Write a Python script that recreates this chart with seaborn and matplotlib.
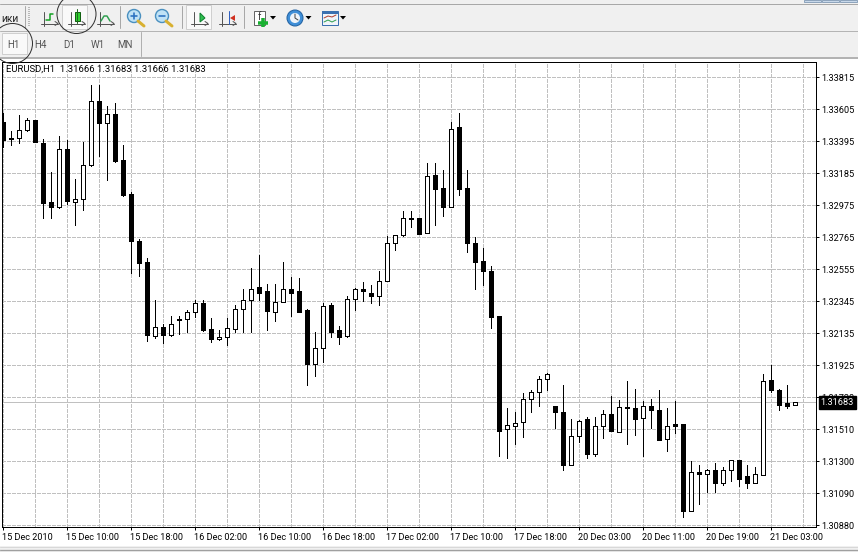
import numpy as np
import pandas as pd
import seaborn as sns
import matplotlib.pyplot as plt
from matplotlib.patches import Rectangle, Circle, Ellipse, Polygon
from matplotlib.transforms import ScaledTranslation

# --- chart values (EURUSD H1) ---
opens = [1.33526, 1.33419, 1.33419, 1.33469, 1.33537, 1.33388, 1.32995, 1.32964, 1.33347, 1.32997,
         1.33019, 1.33239, 1.33662, 1.33515, 1.33577, 1.33275, 1.33052, 1.32743, 1.32601, 1.32117,
         1.32179, 1.32124, 1.32233, 1.32231, 1.32275, 1.32338, 1.32166, 1.32098, 1.32113, 1.32163,
         1.32294, 1.32354, 1.32437, 1.32411, 1.32275, 1.32340, 1.32428, 1.32411, 1.32286, 1.31934,
         1.32039, 1.32319, 1.32155, 1.32117, 1.32360, 1.32430, 1.32404, 1.32382, 1.32478, 1.32730,
         1.32780, 1.32894, 1.32890, 1.32793, 1.33172, 1.33087, 1.32964, 1.33487, 1.33087, 1.32732,
         1.32614, 1.32548, 1.32247, 1.31507, 1.31527, 1.31553, 1.31704, 1.31750, 1.31835, 1.31662,
         1.31623, 1.31271, 1.31464, 1.31571, 1.31341, 1.31529, 1.31608, 1.31490, 1.31654, 1.31647,
         1.31579, 1.31662, 1.31636, 1.31441, 1.31538, 1.31544, 1.30973, 1.31229, 1.31210, 1.31236,
         1.31157, 1.31240, 1.31302, 1.31197, 1.31157, 1.31205, 1.31827, 1.31767, 1.31676, 1.31666]
highs = [1.33581, 1.33467, 1.33566, 1.33551, 1.33537, 1.33413, 1.33198, 1.33428, 1.33406, 1.33152,
         1.33390, 1.33769, 1.33763, 1.33631, 1.33649, 1.33375, 1.33062, 1.32756, 1.32632, 1.32352,
         1.32199, 1.32247, 1.32247, 1.32286, 1.32352, 1.32352, 1.32234, 1.32161, 1.32234, 1.32323,
         1.32424, 1.32562, 1.32649, 1.32457, 1.32457, 1.32607, 1.32509, 1.32496, 1.32299, 1.32142,
         1.32338, 1.32332, 1.32187, 1.32382, 1.32435, 1.32470, 1.32450, 1.32548, 1.32772, 1.32783,
         1.32940, 1.32936, 1.32894, 1.33257, 1.33251, 1.33205, 1.33526, 1.33579, 1.33205, 1.32765,
         1.32699, 1.32575, 1.32247, 1.31649, 1.31623, 1.31746, 1.31767, 1.31853, 1.31877, 1.31662,
         1.31800, 1.31571, 1.31569, 1.31584, 1.31590, 1.31636, 1.31728, 1.31700, 1.31820, 1.31774,
         1.31695, 1.31708, 1.31761, 1.31649, 1.31695, 1.31544, 1.31295, 1.31275, 1.31249, 1.31282,
         1.31256, 1.31302, 1.31302, 1.31269, 1.31256, 1.31866, 1.31925, 1.31774, 1.31794, 1.31683]
lows = [1.33358, 1.33371, 1.33384, 1.33463, 1.33390, 1.32892, 1.32892, 1.32957, 1.32982, 1.32846,
        1.32944, 1.33231, 1.33303, 1.33141, 1.33259, 1.33036, 1.32531, 1.32511, 1.32089, 1.32104,
        1.32071, 1.32117, 1.32133, 1.32142, 1.32240, 1.32150, 1.32078, 1.32091, 1.32061, 1.32142,
        1.32142, 1.32148, 1.32358, 1.32161, 1.32220, 1.32340, 1.32247, 1.32279, 1.31800, 1.31853,
        1.31951, 1.32109, 1.32063, 1.32111, 1.32286, 1.32345, 1.32332, 1.32325, 1.32478, 1.32686,
        1.32774, 1.32831, 1.32785, 1.32793, 1.32844, 1.32903, 1.32964, 1.33047, 1.32667, 1.32424,
        1.32455, 1.32168, 1.31334, 1.31315, 1.31407, 1.31459, 1.31623, 1.31656, 1.31767, 1.31518,
        1.31242, 1.31271, 1.31426, 1.31321, 1.31334, 1.31446, 1.31492, 1.31490, 1.31413, 1.31472,
        1.31328, 1.31512, 1.31433, 1.31361, 1.31479, 1.30934, 1.30967, 1.31013, 1.31092, 1.31098,
        1.31144, 1.31170, 1.31131, 1.31118, 1.31151, 1.31205, 1.31748, 1.31630, 1.31649, 1.31666]
closes = [1.33402, 1.33410, 1.33472, 1.33537, 1.33390, 1.32990, 1.32964, 1.33347, 1.33003, 1.33019,
          1.33242, 1.33662, 1.33515, 1.33577, 1.33270, 1.33041, 1.32741, 1.32596, 1.32124, 1.32176,
          1.32124, 1.32199, 1.32222, 1.32277, 1.32338, 1.32161, 1.32098, 1.32113, 1.32172, 1.32297,
          1.32356, 1.32428, 1.32404, 1.32281, 1.32343, 1.32428, 1.32404, 1.32279, 1.31932, 1.32041,
          1.32317, 1.32148, 1.32115, 1.32363, 1.32428, 1.32411, 1.32378, 1.32481, 1.32730, 1.32783,
          1.32894, 1.32885, 1.32791, 1.33170, 1.33080, 1.32962, 1.33478, 1.33080, 1.32726, 1.32607,
          1.32542, 1.32240, 1.31498, 1.31536, 1.31549, 1.31706, 1.31752, 1.31838, 1.31871, 1.31617,
          1.31269, 1.31464, 1.31562, 1.31341, 1.31529, 1.31608, 1.31492, 1.31654, 1.31643, 1.31577,
          1.31661, 1.31630, 1.31437, 1.31529, 1.31525, 1.30967, 1.31227, 1.31210, 1.31236, 1.31151,
          1.31242, 1.31302, 1.31183, 1.31157, 1.31210, 1.31825, 1.31761, 1.31669, 1.31656, 1.31683]

last_price = 1.31683
y_ticks = [1.33815, 1.33605, 1.33395, 1.33185, 1.32975, 1.32765, 1.32555, 1.32345,
           1.32135, 1.31925, 1.31715, 1.31505, 1.31295, 1.31085, 1.30875]
y_labels = ['1.33815', '1.33605', '1.33395', '1.33185', '1.32975', '1.32765', '1.32555', '1.32345',
            '1.32135', '1.31925', '1.31720', '1.31510', '1.31300', '1.31090', '1.30880']
x_ticks = [0, 8, 16, 24, 32, 40, 48, 56, 64, 72, 80, 88, 96]
x_minor = [4, 12, 20, 28, 36, 44, 52, 60, 68, 76, 84, 92, 100]
x_labels = ['15 Dec 2010', '15 Dec 10:00', '15 Dec 18:00', '16 Dec 02:00', '16 Dec 10:00',
            '16 Dec 18:00', '17 Dec 02:00', '17 Dec 10:00', '17 Dec 18:00', '20 Dec 03:00',
            '20 Dec 11:00', '20 Dec 19:00', '21 Dec 03:00']
timeframes = ['H1', 'H4', 'D1', 'W1', 'MN']

W, H = 858, 552
PX = 0.72  # one pixel in points at dpi 100

sns.set_style('white')
plt.rcParams['font.family'] = ['Roboto', 'DejaVu Sans']
plt.rcParams['font.size'] = 6.6

fig = plt.figure(figsize=(W / 100, H / 100), dpi=100, facecolor='#f0f0f0')


def pixel_axes(zorder):
    a = fig.add_axes([0, 0, 1, 1], zorder=zorder)
    a.set_xlim(0, W)
    a.set_ylim(H, 0)
    a.axis('off')
    a.patch.set_alpha(0)
    return a


bg = pixel_axes(0)
top = pixel_axes(2)

# --- window chrome ---
bg.add_patch(Rectangle((0, 59), W, 487, fc='white', ec='none'))
bg.add_patch(Rectangle((0, 549), W, 3, fc='#e4e4e4', ec='none'))
bg.plot([0, W], [3.5, 3.5], color='#a8a8a8', lw=PX)
bg.plot([0, W], [30.5, 30.5], color='#b4b4b4', lw=PX)
bg.plot([0, W], [57.5, 57.5], color='#a0a0a0', lw=1.5 * PX)
bg.plot([0, W], [546.5, 546.5], color='#d8d8d8', lw=PX)
bg.plot([0, W], [549.5, 549.5], color='#a0a0a0', lw=PX)
for x0 in [804, 822, 840]:
    bg.add_patch(Rectangle((x0, 0), 17, 2, fc='#c8d8ea', ec='#8ea4bc', lw=PX))
for x0 in [24.5, 119.5, 181.5, 243.5]:
    bg.plot([x0, x0], [6, 28], color='#a8a8a8', lw=PX)
bg.plot([140.5, 140.5], [32, 56], color='#b0b0b0', lw=PX)
bg.plot([29, 29], [7, 27], color='#b8b8b8', lw=2 * PX, ls=(0, (0.5, 0.5)))
bg.text(1, 19, 'ики', fontsize=7.4, va='center', color='#222222')

# active buttons
for box in [(62, 5, 25, 24), (186, 5, 25, 24), (2, 33, 25, 21)]:
    bg.add_patch(Rectangle(box[:2], box[2], box[3], fc='#f9f9f9', ec='#cfcfcf', lw=PX))


def chart_icon(a, x):
    # the small grey axes cross on the chart buttons
    a.plot([x, x], [12, 26], color='#555555', lw=PX)
    a.plot([x - 3, x + 14], [23.5, 23.5], color='#555555', lw=PX)
    a.plot([x + 11, x + 14, x + 11], [21.5, 23.5, 25.5], color='#555555', lw=PX)


def drop_arrow(a, x):
    a.add_patch(Polygon([(x - 3, 16), (x + 3, 16), (x, 19.5)], fc='black', ec='none'))


chart_icon(bg, 44)
bg.plot([46, 50, 50, 53], [20, 20, 14, 14], color='#10a020', lw=1.5 * PX)
chart_icon(bg, 71)
bg.plot([77, 77], [9, 23], color='#226622', lw=PX)
bg.add_patch(Rectangle((74.5, 12), 5, 9, fc='#30d030', ec='#106010', lw=PX))
chart_icon(bg, 100)
bg.plot([101, 104, 107, 110], [21, 16, 16, 21], color='#30a050', lw=1.5 * PX)

for cx, mark in [(134, '+'), (162, '-')]:
    bg.plot([cx + 4, cx + 10], [21, 26], color='#d8b030', lw=3 * PX, solid_capstyle='round')
    bg.add_patch(Circle((cx, 16), 6.5, fc='#bfe2f6', ec='#4a90c0', lw=1.4 * PX))
    bg.plot([cx - 3, cx + 3], [16, 16], color='#2a70c0', lw=1.6 * PX)
    if mark == '+':
        bg.plot([cx, cx], [13, 19], color='#2a70c0', lw=1.6 * PX)

chart_icon(bg, 194)
bg.add_patch(Polygon([(200, 13), (205, 18), (200, 22)], fc='#30c050', ec='#108030', lw=PX))
chart_icon(bg, 222)
bg.plot([229, 229], [11, 24], color='#3060c0', lw=PX)
bg.add_patch(Polygon([(230, 18), (235, 15), (235, 21)], fc='#d03020', ec='none'))

bg.add_patch(Rectangle((254, 11), 11, 14, fc='white', ec='#666666', lw=PX))
bg.text(259, 17, 'f', fontsize=7, ha='center', va='center', color='#333333')
bg.plot([263, 263], [18, 27], color='#18b030', lw=3.5 * PX, solid_capstyle='butt')
bg.plot([258, 268], [22.5, 22.5], color='#18b030', lw=3.5 * PX, solid_capstyle='butt')
drop_arrow(bg, 273)

bg.add_patch(Circle((295, 18), 8, fc='#3f8fd8', ec='#2060a0', lw=PX))
bg.add_patch(Circle((295, 18), 5, fc='#eef4fa', ec='none'))
bg.plot([295, 295, 298], [14, 18, 20], color='#444444', lw=PX)
drop_arrow(bg, 308.5)

bg.add_patch(Rectangle((322, 11), 16, 14, fc='#f0f4fa', ec='#3a70b0', lw=PX))
bg.add_patch(Rectangle((322, 11), 16, 3, fc='#3a70b0', ec='none'))
bg.plot([324, 328, 332, 336], [18, 16, 17, 15], color='#b04030', lw=PX)
bg.plot([324, 328, 332, 336], [22, 20, 22, 20], color='#30a050', lw=PX)
drop_arrow(bg, 343)

for label, x0 in zip(timeframes, [13.5, 40.5, 69, 98, 125]):
    bg.text(x0, 45.5, label, fontsize=7, ha='center', va='center', color='#555555')

# --- candles ---
df = pd.DataFrame({'bar': np.arange(len(opens)), 'open': opens, 'high': highs,
                   'low': lows, 'close': closes})
wicks = df.melt(id_vars='bar', value_vars=['low', 'high'], value_name='price')

ax = fig.add_axes([2.0 / W, 1 - 526.5 / H, 814 / W, 465 / H], zorder=1)
ax.set_facecolor('white')

sns.lineplot(data=wicks, x='bar', y='price', units='bar', estimator=None, sort=False,
             color='black', lw=PX, antialiased=False, ax=ax, zorder=2)

rising = df['close'] >= df['open']
ax.bar(df['bar'], (df['close'] - df['open']).abs(), bottom=df[['open', 'close']].min(axis=1),
       width=0.5, color=np.where(rising, 'white', 'black'), edgecolor='black', lw=PX,
       antialiased=False, zorder=3)

ax.axhline(last_price, color='#c0c0c0', lw=PX, antialiased=False, zorder=1.5)

ax.set_xlim(-0.125, 101.625)
ax.set_ylim(1.308684, 1.33920)
ax.set_xlabel('')
ax.set_ylabel('')

ax.set_xticks(x_ticks)
ax.set_xticks(x_minor, minor=True)
ax.set_xticklabels(x_labels, ha='left')
ax.set_yticks(y_ticks)
ax.set_yticklabels(y_labels)
ax.yaxis.tick_right()
ax.tick_params(axis='both', which='major', bottom=True, right=True, length=2.2, width=PX,
               color='black', pad=1.8, labelsize=6.6, labelcolor='black')
ax.tick_params(axis='x', which='minor', length=0)
ax.tick_params(axis='x', which='major', pad=2.4)
for t in ax.get_xticklabels():
    t.set_transform(t.get_transform() + ScaledTranslation(-1 / 100, 0, fig.dpi_scale_trans))

ax.grid(True, which='both', color='#c0c0c0', lw=PX, ls=(0, (4, 2)), antialiased=False)
ax.set_axisbelow(True)
for s in ax.spines.values():
    s.set_visible(True)
    s.set_color('black')
    s.set_linewidth(PX)

# black box with the last price on the right scale
ax.annotate('1.31683', xy=(1, last_price), xycoords=('axes fraction', 'data'),
            xytext=(3.4, 0), textcoords='offset points', fontsize=6.6, color='white', va='center',
            bbox=dict(fc='black', ec='black', boxstyle='square,pad=0.2'), zorder=6,
            annotation_clip=False)

# --- header text and hand drawn circles ---
top.text(6, 69.5, 'EURUSD,H1  1.31666 1.31683 1.31666 1.31683', fontsize=6.8, va='center',
         color='black')
top.add_patch(Circle((12.5, 43.5), 20, fc='none', ec='#303030', lw=PX))
top.add_patch(Ellipse((76.5, 14), 39, 39, fc='none', ec='#303030', lw=PX))

fig.savefig('out.png', dpi=100, facecolor=fig.get_facecolor())
